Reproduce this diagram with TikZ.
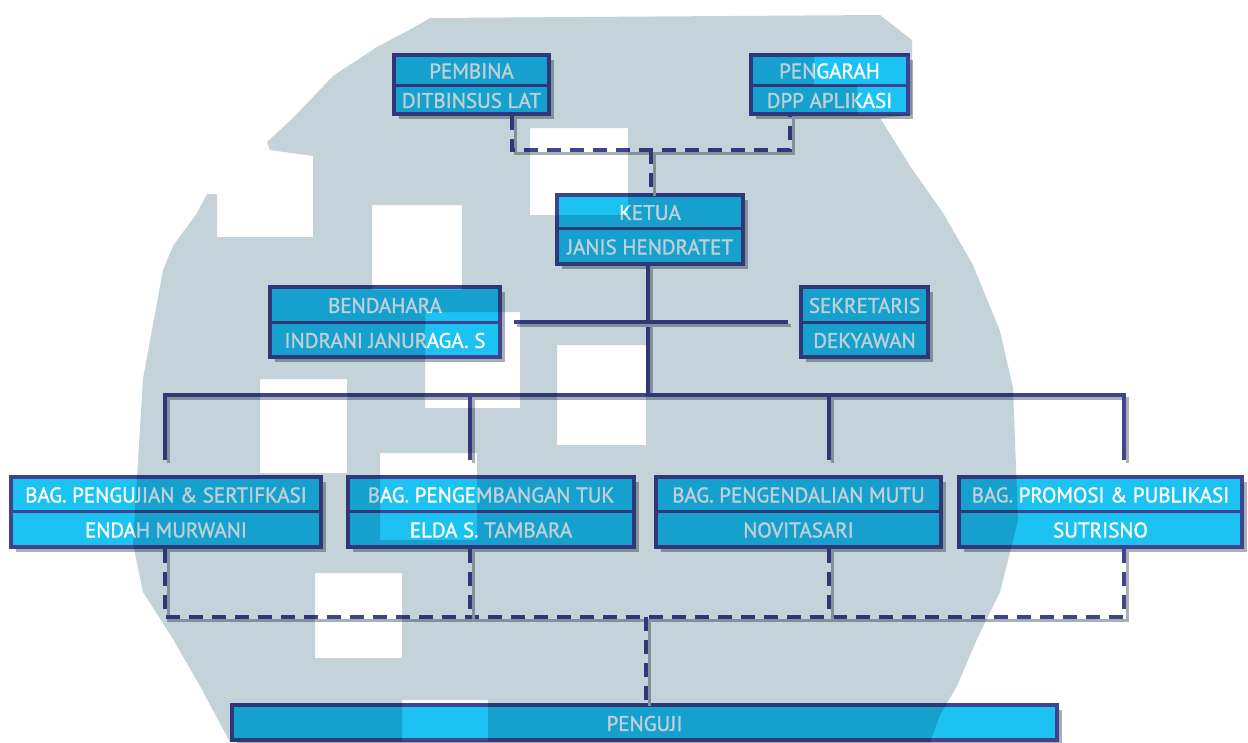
\documentclass[tikz,border=0pt]{standalone}
\usepackage{fontspec}
\setmainfont{PT Sans}
\newfontfamily\lblfont{PT Sans}[FakeBold=1.6]
\definecolor{navy}{HTML}{40438F}
\definecolor{boxc}{HTML}{1CC2F2}
\definecolor{blobc}{HTML}{C3D3D9}
\definecolor{shadc}{HTML}{A9B0B4}
\definecolor{txtc}{HTML}{F8FCFD}
\tikzset{
  orgbox/.style={rectangle, draw=navy, line width=3.2pt, fill=boxc, inner sep=0pt},
  divline/.style={navy, line width=3pt},
  shad/.style={fill=shadc},
  lbl/.style={text=txtc, font=\lblfont\fontsize{21}{24}\selectfont, inner sep=0pt},
  conn/.style={navy, line width=3.2pt},
  dconn/.style={navy, line width=3.2pt, dash pattern=on 14pt off 9pt},
  cshad/.style={shadc, line width=3pt, transform canvas={shift={(3pt,-3pt)}}},
}
\newcommand\orgbx[8]{%
  \fill[shad] (#2+5,#3+5) rectangle (#4+5,#5+5);
  \node[orgbox, minimum width={(#4-#2)*1pt}, minimum height={(#5-#3)*1pt}] (#1) at ({(#2+#4)/2},{(#3+#5)/2}) {};
  \draw[divline] (#2,#6) -- (#4,#6);
  \node[lbl] (#1-a) at ({(#2+#4)/2},{(#3+#6)/2+1}) {#7};
  \node[lbl] (#1-b) at ({(#2+#4)/2},{(#6+#5)/2+1}) {#8};
}
\newcommand\cdraw[2]{\draw[cshad] #2; \draw[#1] #2;}
\begin{document}
\begin{tikzpicture}[x=1pt,y=-1pt]
\useasboundingbox (0,0) rectangle (1248,742);
\fill[white] (0,0) rectangle (1248,742);

% boxes
\orgbx{pembina}{394}{55}{549}{114}{85}{PEMBINA}{DITBINSUS LAT}
\orgbx{pengarah}{751}{55}{908}{114}{85}{PENGARAH}{DPP APLIKASI}
\orgbx{ketua}{557}{195}{743}{264}{228}{KETUA}{JANIS HENDRATET}
\orgbx{bendahara}{270}{287}{500}{357}{322}{BENDAHARA}{INDRANI JANURAGA. S}
\orgbx{sekretaris}{801}{287}{928}{357}{322}{SEKRETARIS}{DEKYAWAN}
\orgbx{b1}{11}{477}{321}{547}{511}{BAG. PENGUJIAN \& SERTIFKASI}{ENDAH MURWANI}
\orgbx{b2}{348}{477}{634}{547}{511}{BAG. PENGEMBANGAN TUK}{ELDA S. TAMBARA}
\orgbx{b3}{656}{477}{941}{547}{511}{BAG. PENGENDALIAN MUTU}{NOVITASARI}
\orgbx{b4}{959}{477}{1242}{547}{511}{BAG. PROMOSI \& PUBLIKASI}{SUTRISNO}
\fill[shad] (237,710) rectangle (1062,745);
\node[orgbox, minimum width=825pt, minimum height=35pt] (penguji) at (644.5,722.5) {};
\node[lbl] (penguji-a) at (644.5,723.5) {PENGUJI};

% junction coordinates
\coordinate (jt) at (651,150);
\coordinate (jb) at (648,395);
\coordinate (c1) at (165,395);
\coordinate (c2) at (470,395);
\coordinate (c3) at (829,395);
\coordinate (c4) at (1124,395);
\coordinate (e1) at (165,460);
\coordinate (e2) at (470,460);
\coordinate (e3) at (829,460);
\coordinate (e4) at (1124,460);
\coordinate (d1) at (165,617);
\coordinate (d2) at (470,617);
\coordinate (d3) at (829,617);
\coordinate (d4) at (1124,617);
\coordinate (dm) at (646,617);

% connectors
\cdraw{dconn}{([xshift=40.5pt]pembina.south) |- (jt) -| ([xshift=-39.5pt]pengarah.south)}
\cdraw{dconn}{(jt) -- (ketua.north -| jt)}
\cdraw{conn}{(ketua.south -| jb) -- (jb)}
\cdraw{conn}{([xshift=12pt]bendahara.east) -- ([xshift=-11pt]sekretaris.west)}
\cdraw{conn}{(e1) -- (c1) -- (c4) -- (e4)}
\cdraw{conn}{(c2) -- (e2)}
\cdraw{conn}{(c3) -- (e3)}
\cdraw{dconn}{(b1.south -| d1) -- (d1) -- (d4) -- (b4.south -| d4)}
\cdraw{dconn}{(b2.south -| d2) -- (d2)}
\cdraw{dconn}{(b3.south -| d3) -- (d3)}
\cdraw{dconn}{(dm) -- (penguji.north -| dm)}

% background logo blob (multiplied over everything)
\fill[blobc, blend mode=multiply, even odd rule]
  (413,28) -- (430,18) -- (880,15) -- (912,40) -- (912,115) -- (880,118)
  -- (910,166) -- (943,213) -- (973,265) -- (1000,331) -- (1013,388)
  -- (1018,520) -- (1000,592) -- (977,639) -- (957,686) -- (940,715) -- (930,742)
  -- (230,742) -- (200,686) -- (173,639) -- (143,592) -- (133,544)
  -- (143,379) -- (163,270) -- (173,246) -- (197,213) -- (207,194)
  -- (217,194) -- (217,237) -- (313,237) -- (313,156) -- (270,150)
  -- (267,142) -- (293,118) -- (333,76) -- (377,47) -- cycle
  (530,128) rectangle (628,215)
  (372,205) rectangle (462,290)
  (260,379) rectangle (347,473)
  (425,312) rectangle (520,408)
  (557,345) rectangle (646,445)
  (380,453) rectangle (477,540)
  (315,573) rectangle (402,658)
  (402,700) rectangle (488,741)
  (814,56) rectangle (910,85)
  (857,85) rectangle (910,114);
\end{tikzpicture}
\end{document}
